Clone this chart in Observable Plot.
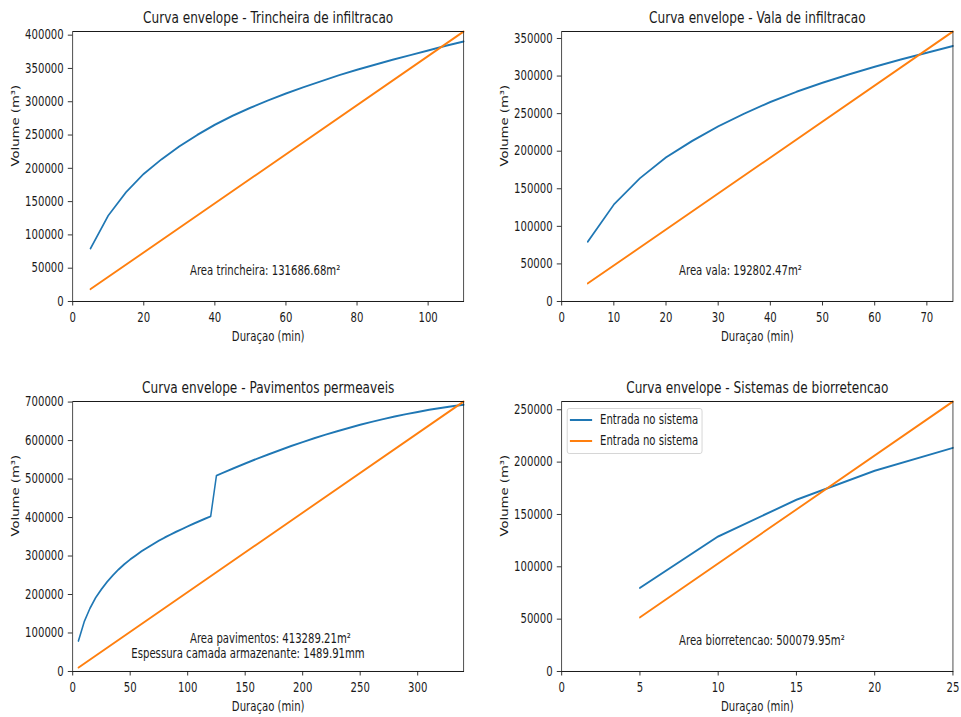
<!DOCTYPE html>
<html>
<head>
<meta charset="utf-8">
<script src="https://cdn.jsdelivr.net/npm/d3@7"></script>
<script src="https://cdn.jsdelivr.net/npm/@observablehq/plot@0.6"></script>
<style>
  html, body { margin: 0; background: #fff; overflow: hidden; }
  #page { position: relative; width: 961px; height: 717px; overflow: hidden; }
  /* the figure is laid out wide and squeezed horizontally */
  #fig { position: absolute; left: 0; top: 0; height: 717px; background: #fff; transform-origin: 0 0;
         font-family: "DejaVu Sans", sans-serif; color: #1a1a1a; }
  #fig > svg { position: absolute; overflow: visible; }
  .legend { position: absolute; background: rgba(255,255,255,0.85); border: 1px solid #d0d0d0;
            border-radius: 3px; font-size: 13.2px; box-sizing: border-box; }
  .legend .row { position: absolute; left: 0; height: 14px; display: flex; align-items: center; white-space: nowrap; }
  .legend .sw { height: 0; border-top: 2px solid; }
</style>
</head>
<body>
<div id="page"><div id="fig"></div></div>
<script>
// ---- Trincheira de infiltracao ----
const durTrincheira = [5, 10, 15, 20, 25, 30, 35, 40, 45, 50, 55, 60, 65, 70, 75, 80, 85, 90, 95, 100, 105, 110];
const entradaTrincheira = [79500, 129000, 164000, 191800, 213600, 233000, 250000, 265500, 279000, 291000, 302000,
  312500, 322000, 331000, 340000, 348000, 355500, 363000, 370000, 377000, 384000, 390500];
const durSaidaTrincheira = [5, 110];
const saidaTrincheira = [18400, 405500];
const ticksXTrincheira = [0, 20, 40, 60, 80, 100];
const ticksYTrincheira = [0, 50000, 100000, 150000, 200000, 250000, 300000, 350000, 400000];
const notasTrincheira = ["Area trincheira: 131686.68m²"];

// ---- Vala de infiltracao ----
const durVala = [5, 10, 15, 20, 25, 30, 35, 40, 45, 50, 55, 60, 65, 70, 75];
const entradaVala = [79500, 129000, 164000, 191800, 213600, 233000, 250000, 265500, 279000, 291000, 302000,
  312500, 322000, 331000, 340000];
const durSaidaVala = [5, 75];
const saidaVala = [23950, 359300];
const ticksXVala = [0, 10, 20, 30, 40, 50, 60, 70];
const ticksYVala = [0, 50000, 100000, 150000, 200000, 250000, 300000, 350000];
const notasVala = ["Area vala: 192802.47m²"];

// ---- Pavimentos permeaveis ----
const durPavimentos = [5, 10, 15, 20, 25, 30, 35, 40, 45, 50, 55, 60, 65, 70, 75, 80, 85, 90, 95, 100, 105, 110, 115, 120,
  125, 130, 140, 150, 160, 170, 180, 190, 200, 210, 220, 230, 240, 250, 260, 270, 280, 290, 300, 310, 320, 330, 340];
const entradaPavimentos = [79500, 129000, 164000, 191800, 213600, 233000, 250000, 265500, 279000, 291000, 302000,
  312500, 322000, 331000, 340000, 348000, 355500, 363000, 370000, 377000, 384000, 390500, 397000, 403000,
  509000, 515500, 528200, 540500, 552400, 563900, 575000, 585700, 596000, 605900, 615400, 624400, 632900,
  641000, 648600, 655700, 662400, 668700, 674500, 679800, 684600, 689000, 693000];
const durSaidaPavimentos = [5, 340];
const saidaPavimentos = [10300, 701500];
const ticksXPavimentos = [0, 50, 100, 150, 200, 250, 300];
const ticksYPavimentos = [0, 100000, 200000, 300000, 400000, 500000, 600000, 700000];
const notasPavimentos = ["Area pavimentos: 413289.21m²", "Espessura camada armazenante: 1489.91mm"];

// ---- Sistemas de biorretencao ----
const durBio = [5, 10, 15, 20, 25];
const entradaBio = [79800, 129000, 164000, 191800, 213600];
const durSaidaBio = [5, 25];
const saidaBio = [51600, 257900];
const ticksXBio = [0, 5, 10, 15, 20, 25];
const ticksYBio = [0, 50000, 100000, 150000, 200000, 250000];
const notasBio = ["Area biorretencao: 500079.95m²"];
const legendaBio = ["Entrada no sistema", "Entrada no sistema"];

const AZUL = "#1f77b4", LARANJA = "#ff7f0e", TINTA = "#1a1a1a";
const SX = 0.766;               // horizontal squeeze of the whole figure
const W = 961 / SX;             // unsqueezed layout width
const fig = document.getElementById("fig");
fig.style.width = W + "px";
fig.style.transform = `scale(${SX}, 1)`;
const fmt = d => String(d);
const hx = v => v / SX;         // horizontal page pixels -> layout pixels

function painel(cfg) {
  const xMax = d3.max(cfg.dur), yMax = d3.max(cfg.saida);
  const notas = cfg.notas.map((t, i) => ({t, x: cfg.notaPos[i][0] * xMax, y: cfg.notaPos[i][1] * yMax}));
  const svg = Plot.plot({
    width: hx(cfg.w), height: cfg.h,
    marginLeft: hx(cfg.mL), marginRight: hx(cfg.mR), marginTop: cfg.mT, marginBottom: cfg.mB,
    x: {domain: [0, xMax]},
    y: {domain: [0, yMax]},
    style: {fontFamily: '"DejaVu Sans", sans-serif', fontSize: "13.2px", color: TINTA,
            background: "transparent", overflow: "visible"},
    marks: [
      Plot.axisX(cfg.ticksX, {tickSize: 4.5, tickPadding: 6.5, tickFormat: fmt, label: null,
        stroke: TINTA, fill: TINTA, fontSize: 13.2}),
      Plot.axisY(cfg.ticksY, {tickSize: hx(4.5), tickPadding: hx(4.5), tickFormat: fmt, label: null,
        stroke: TINTA, fill: TINTA, fontSize: 13.2}),
      Plot.line(cfg.entrada, {x: (d, i) => cfg.dur[i], y: d => d, stroke: AZUL, strokeWidth: 2}),
      Plot.line(cfg.saida, {x: (d, i) => cfg.durSaida[i], y: d => d, stroke: LARANJA, strokeWidth: 2}),
      Plot.frame({stroke: TINTA, strokeWidth: 1}),
      Plot.text(notas, {x: "x", y: "y", text: "t", textAnchor: "start", lineAnchor: "middle", dy: -4.2,
        fontSize: 13.2, fill: TINTA}),
      Plot.text([cfg.titulo], {text: d => d, frameAnchor: "top", lineAnchor: "middle", dy: -13.6,
        fontSize: 15.84, fill: TINTA}),
      Plot.text(["Duraçao (min)"], {text: d => d, frameAnchor: "bottom", lineAnchor: "middle", dy: 34.8,
        fontSize: 13.2, fill: TINTA}),
      Plot.text(["Volume (m³)"], {text: d => d, frameAnchor: "left", lineAnchor: "middle", rotate: -90,
        dx: hx(-56.5), fontSize: 13.2, fill: TINTA})
    ]
  });
  svg.style.left = hx(cfg.left) + "px";
  svg.style.top = cfg.top + "px";
  fig.appendChild(svg);
}

painel({titulo: "Curva envelope - Trincheira de infiltracao", dur: durTrincheira, entrada: entradaTrincheira,
  durSaida: durSaidaTrincheira, saida: saidaTrincheira, ticksX: ticksXTrincheira, ticksY: ticksYTrincheira,
  notas: notasTrincheira, notaPos: [[0.3, 0.1]],
  left: 0, top: 0, w: 480, h: 350, mL: 72.3, mR: 16.7, mT: 31, mB: 49});

painel({titulo: "Curva envelope - Vala de infiltracao", dur: durVala, entrada: entradaVala,
  durSaida: durSaidaVala, saida: saidaVala, ticksX: ticksXVala, ticksY: ticksYVala,
  notas: notasVala, notaPos: [[0.3, 0.1]],
  left: 480, top: 0, w: 481, h: 350, mL: 81, mR: 8.7, mT: 31, mB: 49});

painel({titulo: "Curva envelope - Pavimentos permeaveis", dur: durPavimentos, entrada: entradaPavimentos,
  durSaida: durSaidaPavimentos, saida: saidaPavimentos, ticksX: ticksXPavimentos, ticksY: ticksYPavimentos,
  notas: notasPavimentos, notaPos: [[0.3, 0.104], [0.15, 0.049]],
  left: 0, top: 370, w: 480, h: 347, mL: 72.3, mR: 16.7, mT: 31, mB: 46});

painel({titulo: "Curva envelope - Sistemas de biorretencao", dur: durBio, entrada: entradaBio,
  durSaida: durSaidaBio, saida: saidaBio, ticksX: ticksXBio, ticksY: ticksYBio,
  notas: notasBio, notaPos: [[0.3, 0.1]],
  left: 480, top: 370, w: 481, h: 347, mL: 81, mR: 8.7, mT: 31, mB: 46});

// legend for the biorretencao panel
const leg = document.createElement("div");
leg.className = "legend";
Object.assign(leg.style, {left: hx(566.7) + "px", top: "407.7px", width: hx(136) + "px", height: "46.3px"});
legendaBio.forEach((rotulo, i) => {
  const row = document.createElement("div");
  row.className = "row";
  row.style.top = (4.3 + i * 21) + "px";
  const sw = document.createElement("span");
  sw.className = "sw";
  Object.assign(sw.style, {borderColor: [AZUL, LARANJA][i], width: hx(22.7) + "px",
    marginLeft: hx(2.3) + "px", marginRight: hx(7.6) + "px"});
  const tx = document.createElement("span");
  tx.textContent = rotulo;
  row.append(sw, tx);
  leg.appendChild(row);
});
fig.appendChild(leg);
</script>
</body>
</html>
